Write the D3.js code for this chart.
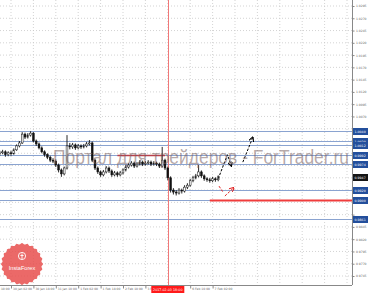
<!DOCTYPE html>
<html>
<head>
<meta charset="utf-8">
<script src="https://cdn.jsdelivr.net/npm/d3@7"></script>
<style>
  body { margin: 0; background: #fff; }
  svg { display: block; }
</style>
</head>
<body>
<svg id="chart" width="368" height="293"></svg>
<script>
// chart data (2h bars)

var firstOpen = 0.9994;
var closes = [0.9996, 0.9998, 0.9992, 0.9996, 0.9994, 1.0002, 1.0010, 1.0016, 1.0034, 1.0028,
              1.0032, 1.0036, 1.0020, 1.0014, 1.0006, 0.9998, 0.9992, 0.9987, 0.9981, 0.9979,
              0.9971, 0.9961, 0.9953, 0.9965, 1.0010, 1.0008, 1.0012, 1.0006, 1.0010, 1.0008,
              1.0010, 1.0014, 1.0016, 0.9981, 0.9965, 0.9957, 0.9951, 0.9957, 0.9965, 0.9959,
              0.9951, 0.9955, 0.9951, 0.9955, 0.9961, 0.9967, 0.9971, 0.9975, 0.9969, 0.9973,
              0.9977, 0.9973, 0.9975, 0.9977, 0.9973, 0.9975, 0.9973, 0.9969, 0.9981, 0.9965,
              0.9945, 0.9920, 0.9916, 0.9914, 0.9920, 0.9918, 0.9926, 0.9930, 0.9939, 0.9945,
              0.9949, 0.9957, 0.9949, 0.9943, 0.9941, 0.9939, 0.9943, 0.9941, 0.9947];
var highs = [1.0000, 1.0002, 1.0001, 0.9999, 1.0000, 1.0005, 1.0013, 1.0020, 1.0038, 1.0037,
             1.0036, 1.0040, 1.0038, 1.0023, 1.0017, 1.0009, 1.0001, 0.9995, 0.9990, 0.9985,
             0.9982, 0.9974, 0.9964, 0.9968, 1.0032, 1.0016, 1.0016, 1.0015, 1.0014, 1.0013,
             1.0014, 1.0018, 1.0022, 1.0019, 0.9984, 0.9968, 0.9960, 0.9961, 0.9969, 0.9968,
             0.9962, 0.9959, 0.9958, 0.9959, 0.9964, 0.9971, 0.9975, 0.9979, 0.9978, 0.9977,
             0.9981, 0.9980, 0.9979, 0.9981, 0.9980, 0.9979, 0.9978, 0.9976, 1.0008, 0.9984,
             0.9968, 0.9948, 0.9924, 0.9920, 0.9924, 0.9923, 0.9930, 0.9934, 0.9943, 0.9949,
             0.9953, 0.9971, 0.9960, 0.9952, 0.9946, 0.9945, 0.9947, 0.9946, 0.9950];
var lows = [0.9990, 0.9993, 0.9988, 0.9989, 0.9990, 0.9992, 1.0000, 1.0007, 1.0014, 1.0024,
            1.0025, 1.0029, 1.0017, 1.0010, 1.0003, 0.9995, 0.9988, 0.9983, 0.9977, 0.9975,
            0.9967, 0.9956, 0.9947, 0.9950, 0.9962, 1.0003, 1.0004, 1.0002, 1.0003, 1.0004,
            1.0005, 1.0007, 1.0011, 0.9977, 0.9961, 0.9953, 0.9947, 0.9948, 0.9954, 0.9955,
            0.9947, 0.9948, 0.9947, 0.9948, 0.9952, 0.9958, 0.9964, 0.9968, 0.9965, 0.9966,
            0.9970, 0.9969, 0.9970, 0.9972, 0.9969, 0.9970, 0.9969, 0.9965, 0.9966, 0.9961,
            0.9940, 0.9915, 0.9911, 0.9909, 0.9911, 0.9913, 0.9915, 0.9922, 0.9927, 0.9936,
            0.9942, 0.9946, 0.9945, 0.9939, 0.9937, 0.9935, 0.9936, 0.9937, 0.9938];

var priceTicks = [0.9745, 0.9770, 0.9795, 0.9820, 0.9845, 0.9870, 0.9895, 0.9920, 0.9945, 0.9970,
                  0.9995, 1.0020, 1.0045, 1.0070, 1.0095, 1.0120, 1.0145, 1.0170, 1.0195, 1.0220,
                  1.0245, 1.0270, 1.0295];

// time ticks every 8 bars (16 hours)
var timeTickIdx = [-4, 4, 12, 20, 28, 36, 44, 52, 60, 68, 76];
var timeLabels = ["27 Jan 10:00", "30 Jan 02:00", "30 Jan 18:00", "31 Jan 10:00", "1 Feb 02:00",
                  "1 Feb 18:00", "2 Feb 10:00", "3 Feb 02:00", "3 Feb 18:00", "6 Feb 10:00", "7 Feb 02:00"];
var gridIdx = [-4, 4, 12, 20, 28, 36, 44, 52, 60, 68, 76, 84, 92, 100, 108, 116, 124];

var levels = [1.0040, 1.0020, 1.0012, 0.9992, 0.9974, 0.9920, 0.9900, 0.9861];
var redLevel = 0.9900, redLevelFrom = 75;
var redSegment = {price: 0.9992, from: 42, to: 59};
var vlineIdx = 60, vlineLabel = "2017.02.03 18:00";

var blackArrow1 = [[78, 0.9943], [81.3, 0.9992], [82.7, 0.9969]];
var blackArrow2 = [[86.8, 0.9977], [90.4, 1.0028]];
var redArrow1 = [[78.3, 0.9928], [79.7, 0.9916]];
var redArrow2 = [[80.4, 0.9908], [83.6, 0.9925]];

var watermark = "Портал для трейдеров - ForTrader.ru";

// layout
var plotRight = 352, plotBottom = 285;
var svg = d3.select("#chart");

var x = d3.scaleLinear().domain([0, 1]).range([-0.2, 2.6]);
var y = d3.scaleLinear().domain([0.9745, 1.0295]).range([276, 6]);

svg.append("rect").attr("width", 368).attr("height", 293).attr("fill", "#fff");

var defs = svg.append("defs");
defs.append("clipPath").attr("id", "plotclip")
    .append("rect").attr("width", plotRight).attr("height", plotBottom);

function marker(id, color){
    defs.append("marker").attr("id", id)
        .attr("viewBox", "0 0 10 10").attr("refX", 9).attr("refY", 5)
        .attr("markerWidth", 5).attr("markerHeight", 5)
        .attr("orient", "auto")
        .append("path").attr("d", "M0,0 L10,5 L0,10")
        .attr("fill", "none").attr("stroke", color).attr("stroke-width", 2);
}
marker("ahBlack", "#000");
marker("ahRed", "#e02020");

var plot = svg.append("g").attr("clip-path", "url(#plotclip)");

// grid
plot.append("g").selectAll("line").data(gridIdx).enter().append("line")
    .attr("x1", d => x(d)).attr("x2", d => x(d))
    .attr("y1", 0).attr("y2", plotBottom)
    .attr("stroke", "#c8c8c8").attr("stroke-width", 0.8).attr("stroke-dasharray", "1,2");
plot.append("g").selectAll("line").data(priceTicks).enter().append("line")
    .attr("x1", 0).attr("x2", plotRight)
    .attr("y1", d => y(d)).attr("y2", d => y(d))
    .attr("stroke", "#c8c8c8").attr("stroke-width", 0.8).attr("stroke-dasharray", "1,2");

// horizontal levels
plot.append("g").selectAll("line").data(levels).enter().append("line")
    .attr("x1", 0).attr("x2", plotRight)
    .attr("y1", d => Math.round(y(d)) + 0.5).attr("y2", d => Math.round(y(d)) + 0.5)
    .attr("stroke", "#8aa3d0").attr("stroke-width", 1);

plot.append("line")
    .attr("x1", x(redLevelFrom)).attr("x2", plotRight)
    .attr("y1", Math.round(y(redLevel)) + 0.5).attr("y2", Math.round(y(redLevel)) + 0.5)
    .attr("stroke", "#f03c3c").attr("stroke-width", 2);

plot.append("line")
    .attr("x1", x(redSegment.from)).attr("x2", x(redSegment.to))
    .attr("y1", Math.round(y(redSegment.price)) + 0.5).attr("y2", Math.round(y(redSegment.price)) + 0.5)
    .attr("stroke", "#b8404c").attr("stroke-width", 1.5);

// vertical red line
plot.append("line")
    .attr("x1", Math.round(x(vlineIdx)) + 0.5).attr("x2", Math.round(x(vlineIdx)) + 0.5)
    .attr("y1", 0).attr("y2", plotBottom)
    .attr("stroke", "#f07878").attr("stroke-width", 1);

// candles
var bars = closes.map((c, i) => ({
    i: i,
    o: i ? closes[i - 1] : firstOpen,
    c: c, h: highs[i], l: lows[i]
}));

var cg = plot.append("g");
cg.selectAll("line").data(bars).enter().append("line")
  .attr("x1", d => x(d.i)).attr("x2", d => x(d.i))
  .attr("y1", d => y(d.h)).attr("y2", d => y(d.l))
  .attr("stroke", "#111").attr("stroke-width", 0.9);

cg.selectAll("rect").data(bars).enter().append("rect")
  .attr("x", d => x(d.i) - 0.9)
  .attr("width", 1.8)
  .attr("y", d => y(Math.max(d.o, d.c)))
  .attr("height", d => Math.max(0.6, Math.abs(y(d.o) - y(d.c))))
  .attr("fill", d => d.c >= d.o ? "#fff" : "#111")
  .attr("stroke", "#111").attr("stroke-width", 0.5);

// forecast arrows
var arrowLine = d3.line().x(d => x(d[0])).y(d => y(d[1]));
[[blackArrow1, "#000", "ahBlack"], [blackArrow2, "#000", "ahBlack"],
 [redArrow1, "#e02020", null], [redArrow2, "#e02020", "ahRed"]].forEach(a => {
    var p = plot.append("path").attr("d", arrowLine(a[0]))
        .attr("fill", "none").attr("stroke", a[1]).attr("stroke-width", 1)
        .attr("stroke-dasharray", "2.5,1.5");
    if (a[2]) p.attr("marker-end", "url(#" + a[2] + ")");
});

// watermark
svg.append("text")
   .attr("x", 53).attr("y", 164)
   .attr("font-family", "Liberation Sans, Arial, sans-serif")
   .attr("font-size", 20)
   .attr("textLength", 296).attr("lengthAdjust", "spacingAndGlyphs")
   .attr("fill", "rgba(120,95,95,0.55)")
   .text(watermark);

// price tags sit over the axis labels; skip labels they would cover
var tagPrices = levels.concat([closes[closes.length - 1]]);
function coveredByTag(p){
    return tagPrices.some(t => Math.abs(y(t) - y(p)) < 5);
}

// axes
var yAxis = d3.axisRight(y).tickValues(priceTicks).tickSize(2)
              .tickFormat(d => coveredByTag(d) ? "" : d3.format(".4f")(d));
var gy = svg.append("g").attr("transform", `translate(${plotRight + 0.5},0)`).call(yAxis);
gy.select(".domain").attr("stroke", "#888").attr("d", `M0,0V${plotBottom}`);
gy.selectAll(".tick line").attr("stroke", "#888");
gy.selectAll(".tick text").attr("x", 3.5).attr("font-size", 3).attr("fill", "#666")
  .attr("font-family", "DejaVu Sans, sans-serif");

var xAxis = d3.axisBottom(x).tickValues(timeTickIdx).tickSize(3)
              .tickFormat((d, k) => d === vlineIdx ? "" : timeLabels[k]);
var gx = svg.append("g").attr("transform", `translate(0,${plotBottom + 0.5})`).call(xAxis);
gx.select(".domain").attr("stroke", "#888").attr("d", `M0,0H${plotRight}`);
gx.selectAll(".tick line").attr("stroke", "#888");
gx.selectAll(".tick text").attr("text-anchor", "start").attr("x", 1.5).attr("y", 2.5)
  .attr("font-size", 3).attr("fill", "#666").attr("font-family", "DejaVu Sans, sans-serif");

// level tags on the price axis
var tags = svg.append("g");
function tag(price, fill){
    var yy = Math.round(y(price)) + 0.5;
    tags.append("rect").attr("x", plotRight + 1).attr("y", yy - 3.5)
        .attr("width", 15).attr("height", 7).attr("fill", fill);
    tags.append("text").attr("x", plotRight + 2.5).attr("y", yy + 1.1)
        .attr("font-size", 3.2).attr("fill", "#fff")
        .attr("font-family", "DejaVu Sans, sans-serif")
        .text(d3.format(".4f")(price));
}
levels.forEach(p => tag(p, "#234f9c"));
tag(closes[closes.length - 1], "#151515");

// vertical line time tag
svg.append("rect").attr("x", x(vlineIdx) - 16.5).attr("y", plotBottom + 1)
   .attr("width", 33).attr("height", 7).attr("fill", "#ff1a1a");
svg.append("text").attr("x", x(vlineIdx)).attr("y", plotBottom + 5.8)
   .attr("text-anchor", "middle").attr("font-size", 3.3).attr("fill", "#fff")
   .attr("font-family", "DejaVu Sans, sans-serif").text(vlineLabel);

// InstaForex badge
var badge = svg.append("g").attr("transform", "translate(22,264)").attr("opacity", 0.85);
var pts = d3.range(48).map(k => {
    var a = k / 48 * 2 * Math.PI, r = k % 2 ? 19.6 : 21;
    return [Math.sin(a) * r, -Math.cos(a) * r];
});
badge.append("path").attr("d", d3.line().curve(d3.curveCardinalClosed)(pts)).attr("fill", "#e8504e");
badge.append("circle").attr("cy", -8).attr("r", 3.6)
     .attr("fill", "none").attr("stroke", "#fff").attr("stroke-width", 0.9);
badge.append("path").attr("d", "M0,-10.5 V-5 M-1.6,-8.5 H1.6")
     .attr("stroke", "#fff").attr("stroke-width", 0.9);
badge.append("text").attr("y", 6).attr("text-anchor", "middle")
     .attr("font-size", 5.6).attr("fill", "#fff")
     .attr("font-family", "Liberation Sans, Arial, sans-serif").text("InstaForex");
</script>
</body>
</html>
